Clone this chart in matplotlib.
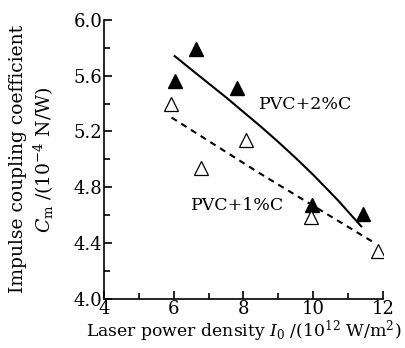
import matplotlib
matplotlib.use("Agg")
import matplotlib.pyplot as plt
from matplotlib.ticker import MultipleLocator, FormatStrFormatter

# ---------------- DATA ----------------
# PVC+2%C (filled triangles)
x_2c = [6.05, 6.64, 7.81, 9.96, 11.42]
y_2c = [5.56, 5.79, 5.51, 4.67, 4.61]
# PVC+1%C (open triangles)
x_1c = [5.93, 6.78, 8.08, 9.94, 11.86]
y_1c = [5.40, 4.94, 5.14, 4.59, 4.34]

# fitted curves
fit_x_2c = [6.03, 6.5, 7.0, 7.5, 8.0, 8.5, 9.0, 9.5, 10.0, 10.7, 11.38]
fit_y_2c = [5.74, 5.645, 5.545, 5.445, 5.34, 5.235, 5.125, 5.01, 4.89, 4.71, 4.52]
fit_x_1c = [5.94, 8.47, 11.77]
fit_y_1c = [5.30, 4.90, 4.40]

label_2c = "PVC+2%C"
label_1c = "PVC+1%C"

# ---------------- STYLE ----------------
plt.rcParams["font.family"] = "DejaVu Serif"
plt.rcParams["mathtext.fontset"] = "dejavuserif"
plt.rcParams["font.size"] = 13

fig = plt.figure(figsize=(4.06, 3.48), dpi=100)
ax = fig.add_axes([0.256, 0.141, 0.687, 0.802])

ax.plot(fit_x_2c, fit_y_2c, color="black", lw=1.5)
ax.plot(fit_x_1c, fit_y_1c, color="black", lw=1.5, ls=(0, (3, 2.5)))

ax.plot(x_2c, y_2c, ls="none", marker="^", ms=9.5, color="black")
ax.plot(x_1c, y_1c, ls="none", marker="^", ms=9.5, mfc="white",
        mec="black", mew=0.9)

ax.text(8.45, 5.39, label_2c, fontsize=12.5, va="center")
ax.text(6.5, 4.67, label_1c, fontsize=12.5, va="center")

ax.set_xlim(4, 12)
ax.set_ylim(4.0, 6.0)
ax.xaxis.set_major_locator(MultipleLocator(2))
ax.xaxis.set_minor_locator(MultipleLocator(1))
ax.yaxis.set_major_locator(MultipleLocator(0.4))
ax.yaxis.set_minor_locator(MultipleLocator(0.2))
ax.yaxis.set_major_formatter(FormatStrFormatter("%.1f"))

ax.spines["top"].set_visible(False)
ax.spines["right"].set_visible(False)
for s in ("left", "bottom"):
    ax.spines[s].set_linewidth(1.2)
ax.tick_params(which="both", direction="in", width=1.2, labelsize=13, pad=1)
ax.tick_params(which="major", length=6)
ax.tick_params(which="minor", length=4)

ax.set_xlabel(r"Laser power density $I_0$ /(10$^{12}$ W/m$^2$)", fontsize=12.4,
              labelpad=0)
ax.set_ylabel("Impulse coupling coefficient\n"
              r"$C_\mathrm{m}$ /(10$^{-4}$ N/W)", fontsize=13.5, labelpad=13,
              linespacing=1.25)

fig.savefig("out.png", dpi=100)
